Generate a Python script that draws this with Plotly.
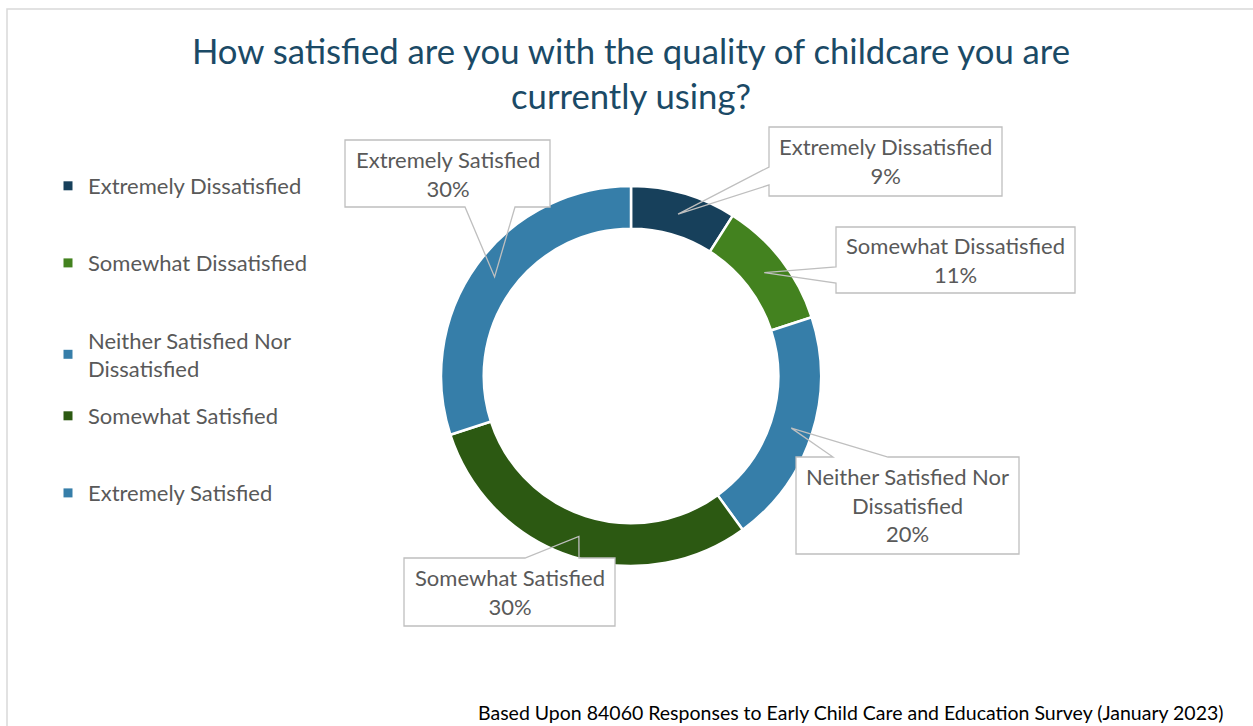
import math
import plotly.graph_objects as go

# Survey answers, in the order they run clockwise from 12 o'clock
categories = [
    "Extremely Dissatisfied",
    "Somewhat Dissatisfied",
    "Neither Satisfied Nor Dissatisfied",
    "Somewhat Satisfied",
    "Extremely Satisfied",
]
shares = [9, 11, 20, 30, 30]  # percent of responses
slice_colors = ["#17405B", "#43821F", "#367EA9", "#2C5912", "#367EA9"]
# wrapped versions of the category names for the legend and the callouts
wrapped_names = [
    "Extremely Dissatisfied",
    "Somewhat Dissatisfied",
    "Neither Satisfied Nor<br>Dissatisfied",
    "Somewhat Satisfied",
    "Extremely Satisfied",
]
title_text = "How satisfied are you with the quality of childcare you are<br>currently using?"
footer_text = "Based Upon 84060 Responses to Early Child Care and Education Survey (January 2023)"

W, H = 1253, 726
FONT = "Lato"
TEXT_GREY = "#595959"
EDGE_GREY = "#BFBFBF"
LABEL_SIZE = 22

# donut geometry (pixels)
CX, CY, R_OUT = 631, 376, 190
HOLE = 0.775


def px(x):
    return x / W


def py(y):
    return 1 - y / H


# callout boxes: (left, top, right, bottom), edge the pointer leaves from,
# and where along that edge the pointer's base sits
callouts = [
    ((769, 127, 1002, 196), "left", (167, 185)),
    ((836, 227, 1075, 293), "left", (267, 283)),
    ((796, 457, 1019, 554), "top", (833, 888)),
    ((404, 558, 615, 626), "top", (525, 579)),
    ((345, 140, 550, 207), "bottom", (465, 515)),
]

fig = go.Figure()

fig.add_trace(go.Pie(
    labels=categories,
    values=shares,
    sort=False,
    direction="clockwise",
    rotation=0,
    hole=HOLE,
    textinfo="none",
    hoverinfo="label+percent",
    marker=dict(colors=slice_colors, line=dict(color="white", width=2.5)),
    showlegend=False,
    domain=dict(x=[px(CX - R_OUT), px(CX + R_OUT)],
                y=[py(CY + R_OUT), py(CY - R_OUT)]),
))

# legend entries (first three in one block, last two in another)
for i, (name, col) in enumerate(zip(wrapped_names, slice_colors)):
    fig.add_trace(go.Scatter(
        x=[None], y=[None], mode="markers",
        marker=dict(symbol="square", size=9, color=col),
        name=name, legendgroup=f"g{i}",
        legend="legend" if i < 3 else "legend2",
        showlegend=True, hoverinfo="skip",
    ))

shapes = []
annotations = []

# pointer tips sit in the middle of the ring, at each slice's mid-angle
total = sum(shares)
r_mid = R_OUT * (1 + HOLE) / 2
cum = 0
for i, share in enumerate(shares):
    frac = (cum + share / 2) / total
    cum += share
    ang = 2 * math.pi * frac
    tx = CX + r_mid * math.sin(ang)
    ty = CY - r_mid * math.cos(ang)

    (l, t, r, b), side, (a0, a1) = callouts[i]
    if side == "left":
        pts = [(l, t), (r, t), (r, b), (l, b), (l, a1), (tx, ty), (l, a0)]
    elif side == "top":
        pts = [(l, t), (a0, t), (tx, ty), (a1, t), (r, t), (r, b), (l, b)]
    else:
        pts = [(l, t), (r, t), (r, b), (a1, b), (tx, ty), (a0, b), (l, b)]

    shapes.append(dict(type="rect", xref="paper", yref="paper",
                       x0=px(l), x1=px(r), y0=py(b), y1=py(t),
                       fillcolor="white", line=dict(width=0), layer="above"))
    path = "M " + " L ".join(f"{px(x):.5f},{py(y):.5f}" for x, y in pts) + " Z"
    shapes.append(dict(type="path", xref="paper", yref="paper", path=path,
                       fillcolor="rgba(0,0,0,0)",
                       line=dict(color=EDGE_GREY, width=1.3), layer="above"))
    annotations.append(dict(
        xref="paper", yref="paper", x=px((l + r) / 2), y=py((t + b) / 2),
        xanchor="center", yanchor="middle", showarrow=False,
        text=f"{wrapped_names[i]}<br>{share}%",
        font=dict(family=FONT, size=LABEL_SIZE, color=TEXT_GREY), align="center",
    ))

# outer frame of the chart area
shapes.append(dict(type="rect", xref="paper", yref="paper",
                   x0=px(7), x1=px(W + 20), y0=py(H + 20), y1=py(9),
                   line=dict(color="#D9D9D9", width=1.5),
                   fillcolor="rgba(0,0,0,0)", layer="below"))

annotations.append(dict(
    xref="paper", yref="paper", x=px(1226), y=py(712),
    xanchor="right", yanchor="middle", showarrow=False, text=footer_text,
    font=dict(family=FONT, size=19.5, color="#000000"),
))

legend_style = dict(
    xanchor="left", yanchor="top", traceorder="grouped", tracegroupgap=45.5,
    font=dict(family=FONT, size=LABEL_SIZE, color=TEXT_GREY),
    bgcolor="rgba(0,0,0,0)", itemclick=False, itemdoubleclick=False,
)

fig.update_layout(
    width=W, height=H, autosize=False,
    margin=dict(l=0, r=0, t=0, b=0),
    paper_bgcolor="white", plot_bgcolor="white",
    title=dict(text=title_text, x=px(631), xanchor="center",
               y=py(64), yanchor="middle",
               font=dict(family=FONT, size=34.7, color="#1B4A66")),
    xaxis=dict(visible=False), yaxis=dict(visible=False),
    legend=dict(x=px(48), y=py(165), **legend_style),
    legend2=dict(x=px(48), y=py(395), **legend_style),
    shapes=shapes,
    annotations=annotations,
)

fig.write_html("out.html")
